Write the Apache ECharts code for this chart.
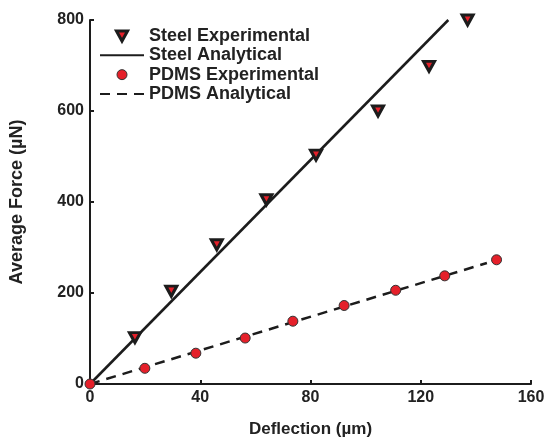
<!DOCTYPE html>
<html>
<head>
<meta charset="utf-8">
<script src="https://cdn.jsdelivr.net/npm/echarts@6/dist/echarts.min.js"></script>
<style>html,body{margin:0;padding:0;background:#fff}#c{width:548px;height:443px}</style>
</head>
<body>
<div id="c"></div>
<script>
// ---- data ----
var steelExpX = [16.3, 29.5, 46, 64, 82, 104.5, 123, 137];
var steelExpY = [102, 204, 306, 405, 503, 600, 698, 800];
var steelAnaX = [0, 130];
var steelAnaY = [0, 800];
var pdmsExpX = [0, 19.9, 38.4, 56.3, 73.6, 92.2, 110.9, 128.7, 147.5];
var pdmsExpY = [0, 34.5, 67.7, 101, 138, 172.5, 206, 237.7, 273];
var pdmsAnaX = [0, 144];
var pdmsAnaY = [0, 266];
var xTicks = [0, 40, 80, 120, 160];
var yTicks = [0, 200, 400, 600, 800];
var seriesNames = ['Steel Experimental', 'Steel Analytical', 'PDMS Experimental', 'PDMS Analytical'];
var xName = 'Deflection (\u00b5m)';
var yName = 'Average Force (\u00b5N)';

function zip(a, b) { return a.map(function (v, i) { return [v, b[i]]; }); }

var triDown = 'path://M0,0L10,0L5,9Z';
var FONT = '"Liberation Sans", Arial, Helvetica, sans-serif';
var INK = '#1c1c1c';
var RED = '#e5202a';
var NONE = 'rgba(0,0,0,0)';

var chart = echarts.init(document.getElementById('c'), null, {renderer: 'canvas'});
chart.setOption({
  animation: false,
  backgroundColor: '#ffffff',
  grid: {left: 82.7, right: 17, top: 20, bottom: 45, containLabel: false},
  legend: {
    orient: 'vertical',
    left: 99,
    top: 26.4,
    padding: 0,
    itemGap: 0,
    itemWidth: 44,
    itemHeight: 10,
    textStyle: {fontFamily: FONT, fontWeight: 'bold', fontSize: 18, color: '#222', lineHeight: 19.3},
    data: [
      {name: seriesNames[0], icon: triDown, itemStyle: {color: RED, borderColor: INK, borderWidth: 3}},
      {name: seriesNames[1], itemStyle: {color: NONE, borderColor: NONE, borderWidth: 0, opacity: 0}},
      {name: seriesNames[2], icon: 'circle', itemStyle: {color: RED, borderColor: '#333', borderWidth: 1}},
      {name: seriesNames[3], itemStyle: {color: NONE, borderColor: NONE, borderWidth: 0, opacity: 0}}
    ]
  },
  xAxis: {
    type: 'value', min: xTicks[0], max: xTicks[xTicks.length - 1], interval: 40,
    name: xName, nameLocation: 'middle', nameGap: 37,
    nameTextStyle: {fontFamily: FONT, fontWeight: 'bold', fontSize: 17, color: '#222'},
    axisLine: {show: true, onZero: false, lineStyle: {color: INK, width: 2}},
    axisTick: {show: true, inside: true, length: 4, lineStyle: {color: INK, width: 2}},
    axisLabel: {fontFamily: FONT, fontWeight: 'bold', fontSize: 16, color: '#222', margin: 6},
    splitLine: {show: false}
  },
  yAxis: {
    type: 'value', min: yTicks[0], max: yTicks[yTicks.length - 1], interval: 200,
    name: yName, nameLocation: 'middle', nameGap: 64,
    nameTextStyle: {fontFamily: FONT, fontWeight: 'bold', fontSize: 18, color: '#222'},
    axisLine: {show: true, onZero: false, lineStyle: {color: INK, width: 2}},
    axisTick: {show: true, inside: true, length: 4, lineStyle: {color: INK, width: 2}},
    axisLabel: {fontFamily: FONT, fontWeight: 'bold', fontSize: 16, color: '#222', margin: 6},
    splitLine: {show: false}
  },
  series: [
    {
      name: seriesNames[0], type: 'scatter', data: zip(steelExpX, steelExpY),
      symbol: triDown, symbolSize: [11, 10], z: 5,
      itemStyle: {color: RED, borderColor: INK, borderWidth: 3, opacity: 1}
    },
    {
      name: seriesNames[1], type: 'line', data: zip(steelAnaX, steelAnaY),
      symbol: 'none', showSymbol: false, z: 2,
      lineStyle: {color: INK, width: 2.5, type: 'solid'},
      itemStyle: {color: INK}
    },
    {
      name: seriesNames[2], type: 'scatter', data: zip(pdmsExpX, pdmsExpY),
      symbol: 'circle', symbolSize: 10, z: 5,
      itemStyle: {color: RED, borderColor: '#333', borderWidth: 1, opacity: 1}
    },
    {
      name: seriesNames[3], type: 'line', data: zip(pdmsAnaX, pdmsAnaY),
      symbol: 'none', showSymbol: false, z: 2,
      lineStyle: {color: INK, width: 2.5, type: [10, 7]},
      itemStyle: {color: INK}
    }
  ]
});
</script>
</body>
</html>
